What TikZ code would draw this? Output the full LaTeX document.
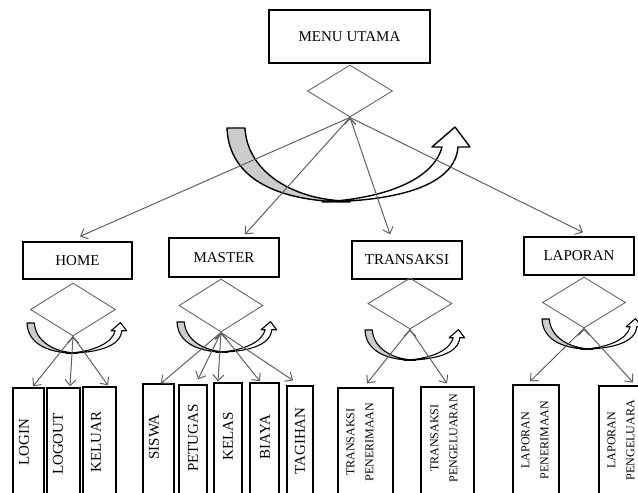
\documentclass[tikz,border=0pt]{standalone}
\usepackage{fontspec}
\setmainfont{Liberation Serif}
\usetikzlibrary{shapes.geometric,arrows.meta}

\tikzset{turn/.pic={
  \draw[fill=black!20,line join=round] (0,0) -- (18,0) .. controls (20,42) and (63,71) .. (118,73) -- (123,74) .. controls (53,74) and (2,52) .. (0,0) -- cycle;
  \draw[fill=white,line join=round] (95,74) .. controls (173,73) and (228,57) .. (231,19) -- (243,19) -- (228,-1) -- (205,19) -- (215,19) .. controls (208,47) and (168,70) .. (95,74) -- cycle;
}}

\begin{document}
\begin{tikzpicture}[x=1pt,y=-1pt]
  \tikzstyle{menu}=[draw=black,line width=1.2pt,inner sep=0pt,font=\fontsize{15}{17}\selectfont]
  \tikzstyle{choice}=[diamond,draw=black!60,line width=0.9pt,inner sep=0pt]
  \tikzstyle{leaf}=[draw=black,line width=1.2pt,minimum height=122pt,inner sep=0pt]
  \tikzstyle{vtext}=[rotate=90,inner sep=0pt,font=\fontsize{15}{17}\selectfont]
  \tikzstyle{vtwo}=[rotate=90,inner sep=0pt,align=center,font=\fontsize{12}{19}\selectfont]
  \tikzstyle{branch}=[draw=black!62,line width=1pt,-{Straight Barb[length=6pt,width=11pt]}]

  \useasboundingbox (0,0) rectangle (638,493);
  \clip (0,0) rectangle (638,493);

  % main menu
  \node[menu,minimum width=161pt,minimum height=53pt] (menu) at (349.5,36.5) {MENU UTAMA};
  \node[choice,minimum width=85pt,minimum height=52pt] (d0) at (350,91) {};

  % level one
  \node[menu,minimum width=109pt,minimum height=37pt] (home) at (77.5,260.5) {HOME};
  \node[menu,minimum width=110pt,minimum height=39pt] (master) at (224,257.5) {MASTER};
  \node[menu,minimum width=110pt,minimum height=38pt] (trans) at (407,260) {TRANSAKSI};
  \node[menu,minimum width=110pt,minimum height=38pt] (lapor) at (579,256) {LAPORAN};

  \node[choice,minimum width=85pt,minimum height=53pt] (dh) at (73,309.5) {};
  \node[choice,minimum width=84pt,minimum height=53pt] (dm) at (221,305.5) {};
  \node[choice,minimum width=84pt,minimum height=51pt] (dt) at (410,303.5) {};
  \node[choice,minimum width=83pt,minimum height=51pt] (dl) at (584,302.5) {};

  % leaves
  \node[leaf,minimum width=31pt] (login) at (28.5,449) {};
  \node[leaf,minimum width=33pt] (logout) at (63.5,449) {};
  \node[leaf,minimum width=33pt] (keluar) at (99.5,448) {};
  \node[leaf,minimum width=31pt] (siswa) at (158.5,445) {};
  \node[leaf,minimum width=28pt] (petugas) at (193,446) {};
  \node[leaf,minimum width=28pt] (kelas) at (228,444) {};
  \node[leaf,minimum width=29pt] (biaya) at (264.5,444) {};
  \node[leaf,minimum width=26pt] (tagihan) at (300,447) {};
  \node[leaf,minimum width=55pt] (tpen) at (365.5,449) {};
  \node[leaf,minimum width=53pt] (tpeng) at (447.5,448) {};
  \node[leaf,minimum width=46pt] (lpen) at (536,446) {};
  \node[leaf,minimum width=46pt] (lpeng) at (622,447) {};

  \node[vtext] (t-login) at (24,442) {LOGIN};
  \node[vtext] (t-logout) at (58,444) {LOGOUT};
  \node[vtext] (t-keluar) at (96,442) {KELUAR};
  \node[vtext] (t-siswa) at (154,437) {SISWA};
  \node[vtext] (t-petugas) at (193,438) {PETUGAS};
  \node[vtext] (t-kelas) at (228,436) {KELAS};
  \node[vtext] (t-biaya) at (265,437) {BIAYA};
  \node[vtext] (t-tagihan) at (300,441) {TAGIHAN};
  \node[vtwo] (t-tpen) at (360,442) {TRANSAKSI\\PENERIMAAN};
  \node[vtwo] (t-tpeng) at (444,438) {TRANSAKSI\\PENGELUARAN};
  \node[vtwo] (t-lpen) at (535,440) {LAPORAN\\PENERIMAAN};
  \node[vtwo] (t-lpeng) at (621,440) {LAPORAN\\PENGELUARA};

  % turning arrows
  \pic[line width=1.4pt] at (227,128) {turn};
  \pic[scale=0.41,line width=1.1pt] at (27,323) {turn};
  \pic[scale=0.41,line width=1.1pt] at (177,322) {turn};
  \pic[scale=0.41,line width=1.1pt] at (365,330) {turn};
  \pic[scale=0.41,line width=1.1pt] at (542,319) {turn};

  % connectors
  \path[branch] (d0.south) edge ([xshift=2.5pt,yshift=5pt]home.north);
  \path[branch] (d0.south) edge ([xshift=21pt,yshift=3pt]master.north);
  \path[branch] (d0.south) edge ([xshift=-17pt,yshift=6pt]trans.north);
  \path[branch] (d0.south) edge ([xshift=4pt,yshift=4pt]lapor.north);

  \path[branch] (dh.south) edge ([xshift=4.5pt,yshift=1pt]login.north);
  \path[branch] (dh.south) edge ([xshift=6.5pt,yshift=1pt]logout.north);
  \path[branch] (dh.south) edge ([xshift=8.5pt,yshift=1pt]keluar.north);

  \path[branch] (dm.south) edge ([xshift=2.5pt]siswa.north);
  \path[branch] (dm.south) edge ([xshift=5pt,yshift=5pt]petugas.north);
  \path[branch] (dm.south) edge ([xshift=-10pt,yshift=1pt]kelas.north);
  \path[branch] (dm.south) edge ([xshift=-4.5pt,yshift=1pt]biaya.north);
  \path[branch] (dm.south) edge ([xshift=-7pt,yshift=5pt]tagihan.north);

  \path[branch] (dt.south) edge ([xshift=1.5pt,yshift=4pt]tpen.north);
  \path[branch] (dt.south) edge ([xshift=-0.5pt,yshift=3pt]tpeng.north);

  \path[branch] (dl.south) edge ([xshift=-6pt,yshift=3pt]lpen.north);
  \path[branch] (dl.south) edge ([xshift=11pt,yshift=3pt]lpeng.north);
\end{tikzpicture}
\end{document}
